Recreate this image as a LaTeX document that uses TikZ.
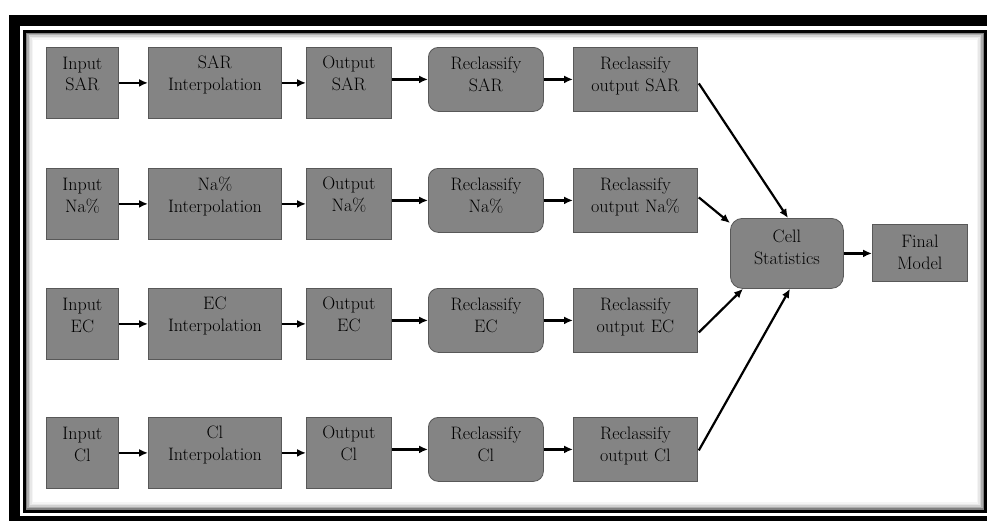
\documentclass[tikz,border=0pt]{standalone}
\usepackage{fontspec}
\usetikzlibrary{calc,arrows.meta}
\definecolor{boxgray}{RGB}{132,132,132}
\definecolor{boxline}{RGB}{88,88,88}
\newcommand{\boxfont}{\fontsize{18}{21.5}\selectfont\addfontfeatures{FakeBold=2}}
\begin{document}
\begin{tikzpicture}[x=1pt,y=-1pt,
  box/.style={draw=boxline, fill=boxgray, line width=0.8pt, inner sep=0pt, anchor=north west},
  big/.style={box, minimum height=71pt},
  flat/.style={box, minimum height=64pt},
  rnd/.style={box, minimum height=64pt, rounded corners=10pt},
  txt/.style={font=\boxfont, align=center, text=black, inner sep=0pt, anchor=north},
  arr/.style={-{Latex[length=9pt,width=8pt]}, line width=2.2pt, black}]
\useasboundingbox (0,0) rectangle (987,520);
\clip (0,0) rectangle (987,520);
\fill[white] (0,0) rectangle (987,520);
% frame
\draw[line width=11pt] (14.5,20.5) rectangle (1010,521.5);
\foreach \o/\c in {2/50,3.5/32,5/18,6.5/9,8/4}
  \draw[black!\c, line width=1.6pt] (24.5+\o,31+\o) rectangle (985.5-\o,511-\o);
\draw[line width=3pt] (24.5,31) rectangle (985.5,511);
% rows
\foreach \r/\y/\s in {1/47/SAR, 2/168/{Na\%}, 3/288/EC, 4/417/Cl}{
  \node[big, minimum width=72pt]   (in\r)  at (46,\y)  {};
  \node[big, minimum width=133pt]  (ip\r)  at (148,\y) {};
  \node[big, minimum width=85pt]   (out\r) at (306,\y) {};
  \node[rnd, minimum width=115pt]  (rc\r)  at (428,\y) {};
  \node[flat, minimum width=124pt] (ro\r)  at (573,\y) {};
  \node[txt] (tin\r)  at ($(in\r.north)+(0,10)$)  {Input\\\s};
  \node[txt] (tip\r)  at ($(ip\r.north)+(0,9)$)   {\s\\Interpolation};
  \node[txt] (tout\r) at ($(out\r.north)+(0,9)$)  {Output\\\s};
  \node[txt] (trc\r)  at ($(rc\r.north)+(0,10)$)  {Reclassify\\\s};
  \node[txt] (tro\r)  at ($(ro\r.north)+(0,10)$)  {Reclassify\\output \s};
  \draw[arr] (in\r.east) -- (ip\r.west);
  \draw[arr] (ip\r.east) -- (out\r.west);
  \draw[arr] (out\r.east |- rc\r.west) -- (rc\r.west);
  \draw[arr] (rc\r.east) -- (ro\r.west);
}
% cell statistics and final model
\node[box, rounded corners=12pt, minimum width=113pt, minimum height=70pt] (cs) at (730,218) {};
\node[txt] (tcs) at ($(cs.north)+(0,12)$) {Cell\\Statistics};
\node[box, minimum width=95pt, minimum height=57pt] (fm) at (872,224) {};
\node[txt] (tfm) at ($(fm.north)+(0,11)$) {Final\\Model};
\draw[arr] ($(ro1.east)+(1,4)$)  -- ($(cs.north west)+(58,0)$);
\draw[arr] ($(ro2.east)+(1,-3)$) -- ($(cs.north west)+(0,5)$);
\draw[arr] ($(ro3.east)+(1,12)$) -- ($(cs.south west)+(13,0)$);
\draw[arr] ($(ro4.east)+(1,1)$)  -- ($(cs.south west)+(60,0)$);
\draw[arr] (cs.east) -- (fm.west |- cs.east);
\end{tikzpicture}
\end{document}
